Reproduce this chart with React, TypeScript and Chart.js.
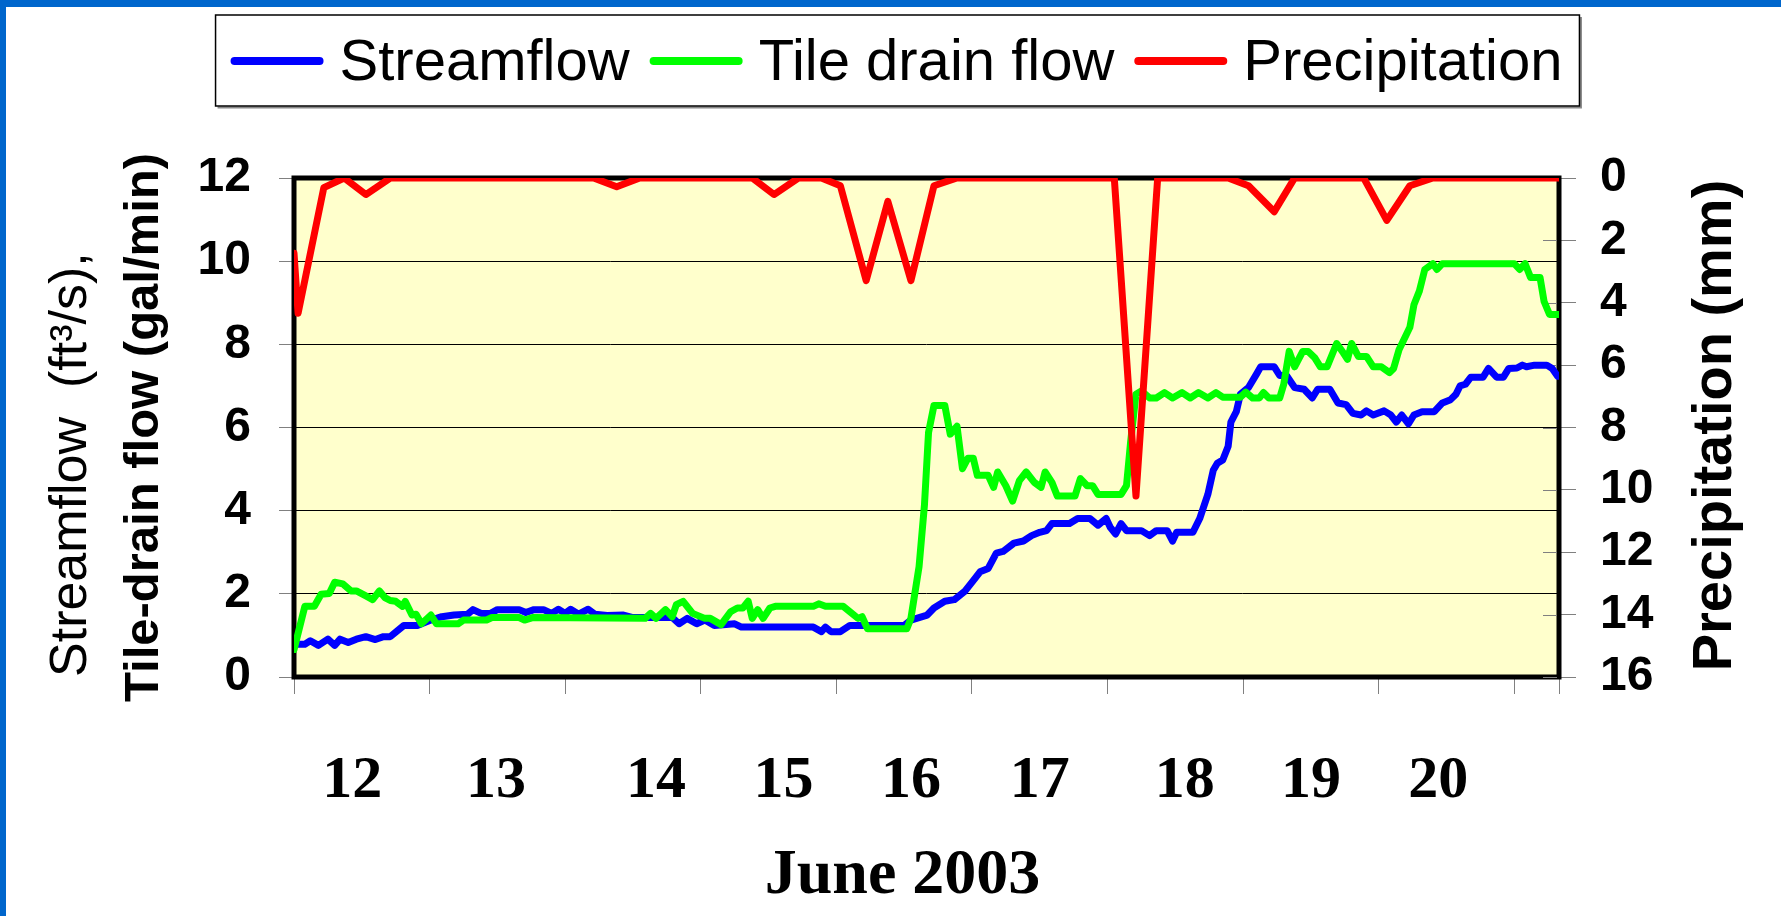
import React, { useEffect, useRef } from 'react';
import { Chart, registerables } from 'chart.js';

Chart.register(...registerables);

// ---------- data (time in days since June 12, 00:00) ----------
const streamT = [0.0, 0.08, 0.12, 0.18, 0.25, 0.30, 0.34, 0.40, 0.46, 0.53, 0.60, 0.66, 0.71, 0.81, 0.91, 1.01, 1.09, 1.18, 1.28, 1.32, 1.38, 1.45, 1.50, 1.66, 1.71, 1.77, 1.84, 1.90, 1.95, 2.00, 2.04, 2.10, 2.17, 2.22, 2.31, 2.43, 2.50, 2.79, 2.84, 2.90, 2.97, 3.03, 3.10, 3.25, 3.30, 3.83, 3.89, 3.92, 3.96, 4.03, 4.10, 4.50, 4.55, 4.67, 4.72, 4.80, 4.87, 4.95, 5.02, 5.06, 5.12, 5.18, 5.23, 5.31, 5.38, 5.44, 5.50, 5.55, 5.59, 5.72, 5.78, 5.87, 5.93, 5.99, 6.02, 6.06, 6.10, 6.14, 6.25, 6.31, 6.36, 6.44, 6.48, 6.51, 6.63, 6.68, 6.74, 6.78, 6.81, 6.85, 6.89, 6.91, 6.95, 6.98, 7.04, 7.10, 7.13, 7.23, 7.27, 7.32, 7.38, 7.45, 7.51, 7.55, 7.64, 7.70, 7.76, 7.81, 7.87, 7.91, 7.96, 8.04, 8.09, 8.13, 8.17, 8.22, 8.26, 8.32, 8.41, 8.47, 8.53, 8.57, 8.60, 8.64, 8.68, 8.77, 8.81, 8.87, 8.92, 8.96, 9.02, 9.06, 9.09, 9.15, 9.24, 9.28, 9.32, 9.35];
const streamflow = [0.79, 0.79, 0.87, 0.76, 0.91, 0.76, 0.91, 0.83, 0.91, 0.97, 0.90, 0.97, 0.97, 1.24, 1.24, 1.37, 1.45, 1.49, 1.51, 1.62, 1.53, 1.53, 1.62, 1.62, 1.55, 1.62, 1.62, 1.53, 1.63, 1.53, 1.63, 1.51, 1.63, 1.51, 1.48, 1.49, 1.43, 1.43, 1.28, 1.41, 1.28, 1.37, 1.24, 1.28, 1.20, 1.20, 1.09, 1.20, 1.09, 1.09, 1.24, 1.24, 1.37, 1.49, 1.66, 1.82, 1.86, 2.07, 2.36, 2.53, 2.61, 2.98, 3.02, 3.22, 3.27, 3.40, 3.48, 3.52, 3.69, 3.69, 3.81, 3.81, 3.65, 3.81, 3.60, 3.44, 3.69, 3.52, 3.52, 3.40, 3.52, 3.52, 3.27, 3.48, 3.48, 3.81, 4.39, 4.97, 5.14, 5.22, 5.55, 6.13, 6.38, 6.80, 6.96, 7.29, 7.46, 7.46, 7.25, 7.25, 6.96, 6.92, 6.71, 6.92, 6.92, 6.59, 6.55, 6.34, 6.30, 6.40, 6.30, 6.40, 6.30, 6.13, 6.30, 6.09, 6.30, 6.38, 6.38, 6.59, 6.67, 6.80, 7.00, 7.04, 7.21, 7.21, 7.42, 7.21, 7.21, 7.42, 7.43, 7.50, 7.46, 7.50, 7.50, 7.42, 7.23, 7.23];

const tileT = [0.0, 0.08, 0.15, 0.20, 0.26, 0.30, 0.36, 0.42, 0.46, 0.53, 0.58, 0.63, 0.67, 0.71, 0.75, 0.80, 0.82, 0.87, 0.90, 0.94, 1.01, 1.05, 1.21, 1.25, 1.42, 1.46, 1.66, 1.70, 1.76, 2.59, 2.63, 2.67, 2.74, 2.79, 2.82, 2.87, 2.94, 3.03, 3.07, 3.15, 3.22, 3.27, 3.31, 3.35, 3.38, 3.42, 3.46, 3.51, 3.55, 3.83, 3.87, 3.92, 4.05, 4.10, 4.16, 4.19, 4.23, 4.52, 4.55, 4.61, 4.65, 4.68, 4.72, 4.80, 4.84, 4.89, 4.93, 4.97, 5.01, 5.04, 5.12, 5.16, 5.19, 5.25, 5.30, 5.35, 5.40, 5.46, 5.51, 5.54, 5.59, 5.63, 5.76, 5.80, 5.85, 5.89, 5.93, 6.10, 6.14, 6.17, 6.21, 6.25, 6.31, 6.36, 6.42, 6.48, 6.55, 6.61, 6.67, 6.74, 6.80, 6.85, 6.98, 7.02, 7.07, 7.12, 7.15, 7.19, 7.27, 7.30, 7.34, 7.38, 7.44, 7.48, 7.53, 7.57, 7.62, 7.69, 7.74, 7.77, 7.80, 7.85, 7.91, 7.96, 8.02, 8.08, 8.11, 8.15, 8.23, 8.26, 8.30, 8.34, 8.40, 8.43, 8.47, 9.00, 9.04, 9.08, 9.12, 9.19, 9.22, 9.26, 9.35];
const tileDrain = [0.66, 1.70, 1.70, 1.99, 2.01, 2.28, 2.24, 2.07, 2.07, 1.95, 1.86, 2.07, 1.91, 1.84, 1.82, 1.70, 1.82, 1.49, 1.51, 1.28, 1.49, 1.28, 1.28, 1.37, 1.37, 1.43, 1.43, 1.37, 1.43, 1.41, 1.53, 1.41, 1.62, 1.45, 1.74, 1.82, 1.53, 1.41, 1.41, 1.26, 1.57, 1.66, 1.66, 1.82, 1.41, 1.62, 1.41, 1.66, 1.70, 1.70, 1.76, 1.70, 1.70, 1.57, 1.41, 1.45, 1.16, 1.16, 1.41, 2.65, 4.14, 5.88, 6.53, 6.53, 5.84, 6.03, 5.01, 5.26, 5.26, 4.85, 4.85, 4.56, 4.93, 4.60, 4.23, 4.72, 4.93, 4.68, 4.56, 4.93, 4.68, 4.35, 4.35, 4.77, 4.60, 4.60, 4.39, 4.39, 4.60, 5.64, 6.80, 6.88, 6.71, 6.71, 6.84, 6.71, 6.84, 6.71, 6.84, 6.71, 6.84, 6.73, 6.73, 6.85, 6.71, 6.71, 6.84, 6.71, 6.71, 7.04, 7.83, 7.46, 7.83, 7.83, 7.67, 7.46, 7.46, 8.02, 7.79, 7.64, 8.02, 7.71, 7.71, 7.46, 7.46, 7.32, 7.42, 7.87, 8.41, 8.95, 9.28, 9.80, 9.94, 9.80, 9.94, 9.94, 9.80, 9.94, 9.61, 9.61, 9.03, 8.72, 8.72];

const precipT = [0.0, 0.03, 0.22, 0.37, 0.53, 0.71, 2.21, 2.38, 2.55, 3.38, 3.54, 3.72, 3.89, 4.03, 4.22, 4.38, 4.55, 4.72, 4.89, 6.05, 6.21, 6.37, 6.89, 7.04, 7.23, 7.38, 7.89, 8.06, 8.23, 8.40, 9.35];
const precipitation = [2.41, 4.34, 0.31, 0, 0.53, 0, 0, 0.28, 0, 0, 0.53, 0, 0, 0.25, 3.29, 0.75, 3.29, 0.25, 0, 0, 10.2, 0, 0, 0.25, 1.08, 0, 0, 1.36, 0.25, 0, 0];

const dayLabels = ['12', '13', '14', '15', '16', '17', '18', '19', '20'];
const dayLabelPos = [0.43, 1.49, 2.67, 3.61, 4.55, 5.5, 6.57, 7.5, 8.44];
const X_MAX = 9.33;

// ---------- styles ----------
const SANS = '"Liberation Sans", Arial, sans-serif';
const SERIF = '"Liberation Serif", "Times New Roman", serif';
const PLOT_BG = '#FFFFCC';
const TICK = '#808080';
const FRAME_BLUE = '#0066CC';
const LINE_W = 7;
const LEGEND_PAD = 20;
const LEGEND_FONT = 58;

const toXY = (t: number[], v: number[]) => t.map((x, i) => ({ x, y: v[i] }));

const decorPlugin = {
  id: 'decor',
  beforeDraw(chart: any) {
    const { ctx, chartArea: a } = chart;
    ctx.save();
    ctx.fillStyle = PLOT_BG;
    ctx.fillRect(a.left, a.top, a.right - a.left, a.bottom - a.top);
    ctx.restore();
  },
  beforeDatasetsDraw(chart: any) {
    const { ctx, chartArea: a } = chart;
    ctx.save();
    ctx.strokeStyle = '#000';
    ctx.lineWidth = 5;
    ctx.strokeRect(a.left, a.top, a.right - a.left, a.bottom - a.top);
    const s = chart.scales.y2;
    ctx.strokeStyle = TICK;
    ctx.lineWidth = 1;
    for (const t of s.ticks) {
      const y = Math.round(s.getPixelForValue(t.value)) + 0.5;
      ctx.beginPath();
      ctx.moveTo(a.right - 16, y);
      ctx.lineTo(a.right - 2, y);
      ctx.stroke();
    }
    ctx.restore();
  },
  afterDraw(chart: any) {
    const { ctx, chartArea: a } = chart;
    const lg = chart.legend;
    if (lg && lg.legendHitBoxes && lg.legendHitBoxes.length) {
      const hb = lg.legendHitBoxes;
      const items = lg.legendItems;
      const first = hb[0];
      const last = hb[hb.length - 1];
      const cy = lg.top + LEGEND_PAD + LEGEND_FONT / 2;
      ctx.save();
      // line samples of the legend entries
      ctx.lineCap = 'round';
      ctx.lineWidth = 8;
      hb.forEach((h: any, i: number) => {
        ctx.strokeStyle = items[i].strokeStyle;
        ctx.beginPath();
        ctx.moveTo(h.left + 4, cy - 3);
        ctx.lineTo(h.left + 89, cy - 3);
        ctx.stroke();
      });
      // legend frame
      const l = first.left - 15;
      const r = last.left + last.width + 17;
      const t = cy - 49;
      const b = cy + 42;
      ctx.lineCap = 'butt';
      ctx.strokeStyle = '#888';
      ctx.lineWidth = 2;
      ctx.beginPath();
      ctx.moveTo(l + 2, b + 1.5);
      ctx.lineTo(r + 1.5, b + 1.5);
      ctx.lineTo(r + 1.5, t + 2);
      ctx.stroke();
      ctx.strokeStyle = '#000';
      ctx.lineWidth = 1.5;
      ctx.strokeRect(l, t, r - l, b - t);
      ctx.restore();
    }
    // right axis title (reads bottom-to-top like the left titles)
    const s = chart.scales.y2;
    ctx.save();
    ctx.translate(s.right - 65, (a.top + a.bottom) / 2 - 2);
    ctx.rotate(-Math.PI / 2);
    ctx.font = `bold 56px ${SANS}`;
    ctx.fillStyle = '#000';
    ctx.textAlign = 'center';
    ctx.textBaseline = 'middle';
    ctx.fillText('Precipitation (mm)', 0, 0);
    ctx.restore();
  },
};

export default function App() {
  const ref = useRef<HTMLCanvasElement>(null);

  useEffect(() => {
    if (!ref.current) return;
    const lineStyle = {
      borderWidth: LINE_W,
      pointRadius: 0,
      borderJoinStyle: 'round',
      borderCapStyle: 'round',
      clip: 0,
    };
    const chart = new Chart(ref.current, {
      type: 'line',
      data: {
        datasets: [
          {
            label: 'Streamflow',
            data: toXY(streamT, streamflow),
            yAxisID: 'y',
            borderColor: '#0000FF',
            backgroundColor: '#0000FF',
            order: 3,
            ...lineStyle,
          },
          {
            label: 'Tile drain flow',
            data: toXY(tileT, tileDrain),
            yAxisID: 'y',
            borderColor: '#00FF00',
            backgroundColor: '#00FF00',
            order: 2,
            ...lineStyle,
          },
          {
            label: 'Precipitation',
            data: toXY(precipT, precipitation),
            yAxisID: 'y2',
            borderColor: '#FF0000',
            backgroundColor: '#FF0000',
            order: 1,
            ...lineStyle,
          },
        ],
      } as any,
      options: {
        animation: false,
        responsive: false,
        events: [],
        layout: { padding: { top: 15, left: 12, right: 0, bottom: 0 } },
        plugins: {
          tooltip: { enabled: false },
          legend: {
            position: 'top',
            labels: {
              font: { family: SANS, size: LEGEND_FONT },
              color: '#000',
              boxWidth: 80,
              boxHeight: 8,
              padding: LEGEND_PAD,
              generateLabels: (c: any) =>
                (Chart.defaults.plugins.legend.labels as any)
                  .generateLabels(c)
                  .map((it: any) => ({ ...it, fillStyle: 'rgba(0,0,0,0)', lineWidth: 0 }))
                  .sort((p: any, q: any) => p.datasetIndex - q.datasetIndex),
            },
          },
        },
        scales: {
          x: {
            type: 'linear',
            position: 'bottom',
            weight: 0,
            min: 0,
            max: X_MAX,
            ticks: { display: false, stepSize: 1 },
            grid: { display: true, drawOnChartArea: false, drawTicks: true, tickLength: 17, tickColor: TICK },
            border: { display: false },
            afterFit: (s: any) => { s.height = 20; },
          },
          xl: {
            type: 'linear',
            position: 'bottom',
            weight: 1,
            min: 0,
            max: X_MAX,
            afterBuildTicks: (s: any) => { s.ticks = dayLabelPos.map((v) => ({ value: v })); },
            ticks: {
              autoSkip: false,
              maxRotation: 0,
              padding: 40,
              color: '#000',
              font: { family: SERIF, size: 60, weight: 'bold' },
              callback: (_v: any, i: number) => dayLabels[i],
            },
            grid: { display: false },
            border: { display: false },
            title: {
              display: true,
              text: 'June 2003   ',
              color: '#000',
              font: { family: SERIF, size: 64, weight: 'bold', lineHeight: 1 },
              padding: { top: 0, bottom: 8 },
            },
            afterFit: (s: any) => { s.height = 219; },
          },
          xTop: {
            type: 'linear',
            position: 'top',
            min: 0,
            max: 1,
            ticks: { display: false },
            grid: { display: false },
            border: { display: false },
            afterFit: (s: any) => { s.height = 75; },
          },
          y: {
            type: 'linear',
            position: 'left',
            weight: 0,
            min: 0,
            max: 12,
            ticks: {
              stepSize: 2,
              padding: 28,
              color: '#000',
              font: { family: SANS, size: 48, weight: 'bold' },
            },
            grid: { color: '#000', lineWidth: 1, tickLength: 15, tickColor: TICK },
            border: { display: false },
            title: {
              display: true,
              text: 'Tile-drain flow (gal/min)',
              color: '#000',
              font: { family: SANS, size: 49, weight: 'bold', lineHeight: 1 },
              padding: { top: 7.5, bottom: 0 },
            },
            afterFit: (s: any) => { s.width = 182; },
          },
          yOuter: {
            type: 'linear',
            position: 'left',
            weight: 1,
            min: 0,
            max: 1,
            ticks: { display: false },
            grid: { display: false },
            border: { display: false },
            title: {
              display: true,
              text: 'Streamflow  (ft³/s),',
              align: 'start',
              color: '#000',
              font: { family: SANS, size: 52, weight: 'normal', lineHeight: 1 },
              padding: { top: 33.5, bottom: 0 },
            },
            afterFit: (s: any) => { s.width = 100; },
          },
          y2: {
            type: 'linear',
            position: 'right',
            reverse: true,
            min: 0,
            max: 16,
            ticks: {
              stepSize: 2,
              padding: 24,
              color: '#000',
              font: { family: SANS, size: 48, weight: 'bold' },
            },
            grid: { drawOnChartArea: false, tickLength: 17, tickColor: TICK },
            border: { display: false },
            afterFit: (s: any) => { s.width = 222; },
          },
        },
      } as any,
      plugins: [decorPlugin],
    });
    return () => chart.destroy();
  }, []);

  return (
    <div style={{ position: 'absolute', left: 0, top: 0, width: 1781, height: 916, background: '#fff', overflow: 'hidden' }}>
      <canvas ref={ref} width={1781} height={916} style={{ position: 'absolute', left: 0, top: 0, width: 1781, height: 916 }} />
      <div style={{ position: 'absolute', left: 0, top: 0, width: 1781, height: 7, background: FRAME_BLUE }} />
      <div style={{ position: 'absolute', left: 0, top: 0, width: 6, height: 916, background: FRAME_BLUE }} />
    </div>
  );
}
